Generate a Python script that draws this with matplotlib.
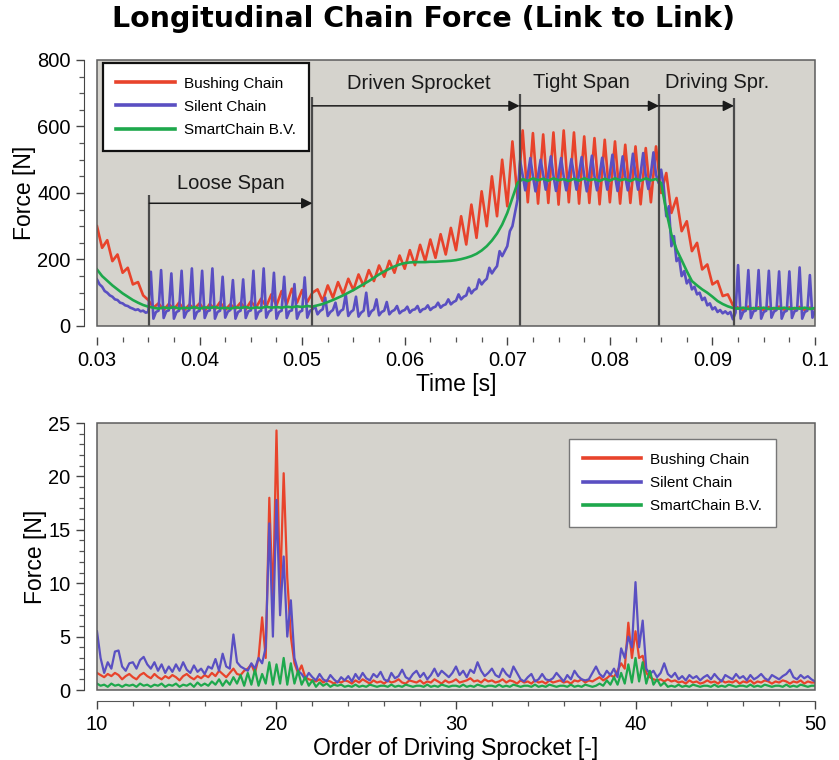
import numpy as np
import matplotlib.pyplot as plt
from matplotlib.patches import Rectangle
from matplotlib.ticker import MultipleLocator, FixedLocator, FixedFormatter

plt.rcParams['font.family'] = ['Liberation Sans', 'DejaVu Sans']

# --- time signals, sampled uniformly between 0.03 s and 0.1 s ---
# bushing chain, 0.5 ms samples
bushing_force = [
    300, 235, 258, 195, 215, 160, 175, 125, 132, 92, 78,
    55, 68, 48, 66, 50, 70, 47, 64, 52, 68, 46, 66, 50, 72, 48, 65,
    52, 70, 50, 74, 55, 82, 58, 95, 62, 105, 66, 112, 70, 108, 72, 100,
    110, 75, 122, 85, 132, 95, 142, 108, 155, 120, 168, 135, 182, 148,
    196, 160, 212, 172, 228, 183, 244, 195, 260, 205, 276, 215, 295, 228,
    330, 245, 365, 265, 405, 300, 450, 330, 500, 360, 555, 385,
    588, 372, 580, 368, 576, 370, 582, 365, 588, 372, 582, 368, 570, 370,
    565, 366, 560, 372, 555, 368, 545, 370, 540, 366, 535, 372, 540, 400,
    460, 340, 385, 285, 315, 225, 250, 170, 185, 125, 135, 90, 95, 62,
    55, 48, 58, 50, 56, 48, 57, 50, 58, 49, 56, 50, 57, 48, 55, 50,
]

# silent chain, 0.25 ms samples
silent_force = [
    140, 125, 118, 105, 100, 92, 88, 80, 78, 70, 68, 62, 60, 55, 52, 48,
    50, 44, 46, 40, 42,
    163, 22, 42, 46, 168, 24, 44, 47, 158, 22, 42, 46, 166, 25, 43, 48,
    173, 22, 42, 46, 166, 24, 44, 47, 173, 22, 42, 46, 148, 25, 43, 48,
    138, 22, 42, 46, 140, 24, 44, 47, 166, 22, 42, 46, 173, 25, 43, 48,
    160, 22, 42, 46, 148, 24, 44, 47, 126, 22, 42, 46, 146, 25, 45, 50,
    60, 35, 45, 50, 85, 30, 42, 48, 70, 32, 45, 50, 95, 30, 42, 48,
    88, 28, 40, 46, 100, 30, 44, 50, 80, 32, 42, 46, 72, 35, 44, 48,
    60, 38, 45, 48, 58, 40, 48, 50, 60, 42, 50, 52, 62, 48, 55, 58,
    70, 55, 62, 65, 80, 65, 72, 76, 95, 80, 88, 92, 115, 98, 108, 112,
    140, 125, 135, 142, 175, 158, 170, 180, 225, 210, 225, 240,
    285, 300, 340, 380,
    498, 452, 408, 455, 505, 450, 405, 452, 500, 455, 410, 458,
    510, 452, 406, 455, 505, 450, 408, 452, 502, 455, 410, 458,
    508, 452, 405, 455, 512, 450, 408, 455, 506, 455, 410, 458,
    515, 452, 406, 455, 510, 450, 408, 455, 518, 455, 410, 460,
    520, 452, 412, 458, 522, 455, 430, 470,
    420, 330, 360, 240, 270, 195, 205, 150, 165, 128, 140, 110, 118, 95,
    100, 78, 85, 62, 68, 50, 56, 42, 48, 38, 44, 36, 42, 20,
    40,
    183, 22, 42, 46, 168, 24, 44, 47, 168, 22, 42, 46, 166, 25, 43, 48,
    164, 22, 42, 46, 164, 24, 44, 47, 176, 22, 42, 46, 153, 25, 45,
]

# SmartChain B.V., 0.5 ms samples
smart_force = [
    170, 150, 136, 122, 110, 98, 88, 78, 70, 63, 58,
    55, 52, 56, 53, 57, 52, 55, 53, 57, 52, 56, 54, 57, 53, 55, 52,
    56, 54, 57, 53, 56, 54, 58, 55, 57, 55, 58, 56, 59, 57, 60, 58,
    62, 66, 72, 78, 85, 92, 100, 108, 117, 126, 135, 145, 155, 164,
    172, 179, 185, 189, 191, 192, 192, 192, 193, 193, 194, 195, 196, 198,
    201, 205, 210, 217, 227, 240, 257, 278, 305, 340, 385, 430,
    442, 436, 444, 438, 443, 437, 444, 438, 442, 436, 443, 437, 444, 438,
    442, 436, 443, 437, 444, 438, 442, 436, 443, 437, 444, 438, 442, 430,
    345, 275, 230, 198, 165, 135, 122, 110, 100, 88, 75, 66, 59, 54,
    52, 55, 51, 54, 52, 55, 51, 54, 52, 55, 51, 54, 52, 55, 51, 54,
]

# --- order spectra, 0.2 steps from order 10 to 50 ---
bushing_spec = [
    1.6, 1.4, 1.2, 1.5, 1.3, 1.6, 1.4, 1.0, 1.3, 1.5,
    1.2, 1.0, 1.4, 1.6, 1.3, 1.1, 1.5, 1.2, 1.0, 1.3,
    1.1, 1.4, 1.2, 0.9, 1.3, 1.5, 1.2, 1.0, 1.3, 1.1,
    1.4, 1.2, 1.6, 1.3, 1.8, 1.5, 1.2, 1.6, 2.0, 1.5,
    1.4, 1.8, 2.0, 2.4, 1.6, 3.0, 6.8, 3.0, 18.0, 8.0,
    24.3, 9.0, 20.3, 10.5, 5.0, 2.5, 1.6, 2.3, 1.2, 1.0,
    0.9, 0.8, 1.0, 0.7, 0.9, 0.8, 0.6, 0.8, 0.7, 0.9,
    0.8, 0.6, 0.9, 0.7, 1.0, 0.8, 0.6, 0.9, 0.7, 0.8,
    0.6, 0.9, 0.7, 0.8, 1.0, 0.7, 0.6, 0.9, 0.8, 0.7,
    0.9, 0.6, 0.8, 0.7, 1.0, 0.8, 0.6, 0.9, 0.7, 0.8,
    1.0, 0.7, 0.8, 0.9, 1.1, 0.8, 0.9, 0.7, 1.0, 0.8,
    0.9, 0.7, 0.8, 1.0, 0.7, 0.9, 0.8, 0.6, 0.9, 0.7,
    0.8, 0.6, 0.9, 0.7, 0.8, 0.6, 0.9, 0.7, 0.8, 0.9,
    0.7, 0.8, 0.6, 0.9, 0.8, 1.0, 0.7, 0.9, 0.8, 1.0,
    1.2, 0.9, 1.1, 1.4, 1.2, 1.8, 2.5, 2.0, 6.3, 3.0,
    5.5, 3.0, 3.2, 1.6, 1.2, 1.0, 0.9, 1.0, 0.8, 1.0,
    0.8, 0.9, 0.7, 0.8, 0.6, 0.9, 0.7, 0.8, 0.6, 0.7,
    0.9, 0.7, 0.8, 0.6, 0.9, 0.7, 0.8, 0.7, 0.9, 0.6,
    0.8, 0.7, 0.9, 0.6, 0.8, 0.7, 0.9, 0.8, 0.6, 0.8,
    0.7, 0.9, 0.8, 0.6, 0.8, 0.7, 0.9, 0.6, 0.8, 0.7,
    0.7,
]

silent_spec = [
    5.5, 3.0, 1.6, 2.6, 2.0, 3.6, 3.7, 2.2, 1.8, 2.5,
    2.6, 2.0, 2.8, 3.1, 2.4, 2.0, 2.6, 1.8, 2.4, 1.6,
    2.2, 1.7, 2.4, 1.8, 2.6, 1.9, 1.6, 2.3, 1.7, 2.0,
    1.5, 2.2, 2.0, 2.9, 1.8, 3.4, 2.2, 2.0, 5.2, 2.6,
    2.2, 2.0, 1.8, 2.5, 2.0, 3.0, 2.5, 4.0, 15.6, 5.0,
    17.8, 7.0, 12.5, 5.0, 8.4, 3.0, 1.8, 1.5, 1.0, 1.6,
    1.2, 0.9, 1.5, 1.0, 0.8, 1.4, 1.0, 0.7, 1.2, 0.9,
    1.3, 0.8, 1.5, 1.0, 1.6, 1.1, 0.9, 1.5, 1.2, 1.7,
    1.0, 0.8, 1.6, 1.1, 1.3, 1.9, 1.2, 1.0, 1.5, 1.8,
    1.2, 1.6, 1.0, 1.4, 2.0, 1.3, 1.8, 1.5, 1.2, 1.6,
    2.2, 1.4, 1.8, 1.2, 1.9, 1.6, 2.6, 1.8, 1.3, 1.6,
    2.0, 1.4, 1.2, 2.0, 1.5, 1.2, 2.2, 1.6, 1.0, 0.8,
    1.2, 1.5, 0.8, 1.0, 1.5, 1.0, 0.9, 1.1, 1.6, 1.2,
    0.8, 1.4, 1.0, 1.8, 1.3, 1.0, 0.9, 1.0, 1.6, 2.2,
    1.5, 1.2, 1.8, 1.4, 2.0, 1.2, 3.9, 3.0, 5.0, 4.0,
    10.1, 4.0, 6.5, 2.0, 1.5, 1.8, 1.2, 1.6, 2.5, 1.5,
    1.2, 1.6, 1.0, 1.3, 0.9, 1.4, 1.1, 1.3, 0.9, 1.2,
    1.4, 1.0, 1.5, 1.1, 0.8, 1.4, 1.2, 1.0, 1.5, 1.1,
    1.3, 0.9, 1.4, 1.0, 1.2, 1.5, 1.1, 0.9, 1.4, 1.2,
    1.0, 1.3, 1.5, 1.9, 1.2, 1.0, 1.4, 1.1, 1.3, 1.0,
    0.8,
]

smart_spec = [
    0.6, 0.4, 0.5, 0.3, 0.6, 0.4, 0.5, 0.3, 0.5, 0.4,
    0.5, 0.3, 0.6, 0.4, 0.5, 0.3, 0.5, 0.4, 0.6, 0.3,
    0.5, 0.4, 0.6, 0.3, 0.5, 0.4, 0.6, 0.3, 0.7, 0.4,
    0.6, 0.4, 0.8, 0.5, 1.0, 0.4, 0.9, 0.5, 1.2, 0.6,
    1.4, 0.4, 1.6, 0.5, 1.9, 0.4, 1.5, 0.6, 2.6, 0.5,
    2.4, 0.6, 3.0, 0.5, 2.5, 0.6, 1.8, 0.5, 1.2, 0.4,
    0.9, 0.3, 0.7, 0.4, 0.6, 0.3, 0.5, 0.4, 0.5, 0.3,
    0.4, 0.3, 0.5, 0.3, 0.4, 0.3, 0.5, 0.4, 0.3, 0.4,
    0.4, 0.3, 0.5, 0.3, 0.4, 0.3, 0.5, 0.4, 0.3, 0.4,
    0.4, 0.3, 0.5, 0.3, 0.4, 0.3, 0.5, 0.4, 0.3, 0.4,
    0.4, 0.3, 0.5, 0.3, 0.4, 0.3, 0.5, 0.4, 0.3, 0.4,
    0.4, 0.3, 0.5, 0.3, 0.4, 0.3, 0.5, 0.4, 0.3, 0.4,
    0.4, 0.3, 0.5, 0.3, 0.4, 0.3, 0.5, 0.4, 0.3, 0.4,
    0.4, 0.3, 0.5, 0.3, 0.4, 0.3, 0.5, 0.4, 0.3, 0.4,
    0.6, 0.4, 0.9, 0.5, 1.2, 0.5, 1.6, 0.6, 2.4, 0.7,
    3.0, 0.8, 2.6, 0.6, 1.8, 0.5, 1.0, 0.4, 0.7, 0.3,
    0.4, 0.3, 0.5, 0.3, 0.4, 0.3, 0.5, 0.4, 0.3, 0.4,
    0.4, 0.3, 0.5, 0.3, 0.4, 0.3, 0.5, 0.4, 0.3, 0.4,
    0.4, 0.3, 0.5, 0.3, 0.4, 0.3, 0.5, 0.4, 0.3, 0.4,
    0.4, 0.3, 0.5, 0.3, 0.4, 0.3, 0.5, 0.4, 0.3, 0.4,
    0.4,
]

series_names = ['Bushing Chain', 'Silent Chain', 'SmartChain B.V.']
series_colors = ['#e8432b', '#5a4fc2', '#1ea84c']

# phase boundaries [s], height of each boundary line [N]
phase_edges = [0.0351, 0.0510, 0.0712, 0.0848, 0.0921]
phase_tops = [393, 688, 699, 699, 686]
phase_names = ['Loose Span', 'Driven Sprocket', 'Tight Span', 'Driving Spr.']
arrow_levels = [369, 662, 662, 662]
label_pos = [(0.0430, 429), (0.0614, 729), (0.0772, 733), (0.0905, 733)]

time_ticks = [0.03, 0.04, 0.05, 0.06, 0.07, 0.08, 0.09, 0.10]
time_labels = ['0.03', '0.04', '0.05', '0.06', '0.07', '0.08', '0.09', '0.1']

bg = '#d5d3cd'

fig = plt.figure(figsize=(8.39, 7.6), dpi=100)
ax1 = fig.add_axes([0.1156, 0.5711, 0.8558, 0.3500])
ax2 = fig.add_axes([0.1156, 0.0921, 0.8558, 0.3513])


def style_axes(ax):
    ax.set_facecolor(bg)
    for side in ['top', 'right']:
        ax.spines[side].set_visible(False)
    ax.spines['left'].set_position(('outward', 9))
    ax.spines['bottom'].set_position(('outward', 8))
    ax.spines['left'].set_color('#444444')
    ax.spines['bottom'].set_color('#555555')
    ax.tick_params(which='major', direction='out', length=6, width=1.0,
                   color='#444444', labelsize=14.5, pad=4)
    ax.tick_params(which='minor', direction='out', length=3.5, width=0.9,
                   color='#555555')
    # frame round the plotting area
    ax.add_patch(Rectangle((0, 0), 1, 1, transform=ax.transAxes, fill=False,
                           edgecolor='#5c5c5c', lw=1.1, zorder=6, clip_on=False))


def style_legend(leg, edge, width):
    leg.get_frame().set_edgecolor(edge)
    leg.get_frame().set_linewidth(width)
    for ln in leg.get_lines():
        ln.set_linewidth(2.6)


legend_opts = dict(borderaxespad=0, fontsize=11, handlelength=3.8,
                   handletextpad=0.6, labelspacing=0.6, borderpad=0.9,
                   fancybox=False, framealpha=1)

# top: force over time
style_axes(ax1)
t_bush = np.linspace(0.03, 0.1, len(bushing_force))
t_silent = np.linspace(0.03, 0.1, len(silent_force))
t_smart = np.linspace(0.03, 0.1, len(smart_force))
ax1.plot(t_bush, bushing_force, color=series_colors[0], lw=1.9, label=series_names[0])
ax1.plot(t_silent, silent_force, color=series_colors[1], lw=1.9, label=series_names[1])
ax1.plot(t_smart, smart_force, color=series_colors[2], lw=1.9, label=series_names[2])

ax1.vlines(phase_edges, 0, phase_tops, color='#4a4a4a', lw=1.6, zorder=4)
for i, name in enumerate(phase_names):
    ax1.annotate('', xy=(phase_edges[i + 1], arrow_levels[i]),
                 xytext=(phase_edges[i], arrow_levels[i]),
                 arrowprops=dict(arrowstyle='-|>', color='#1a1a1a', lw=1.1,
                                 mutation_scale=16, shrinkA=0, shrinkB=0),
                 zorder=5)
    ax1.text(label_pos[i][0], label_pos[i][1], name, ha='center', va='center',
             fontsize=14.5, color='#1a1a1a')

ax1.set_xlim(0.03, 0.1)
ax1.set_ylim(0, 800)
ax1.spines['bottom'].set_visible(False)
ax1.xaxis.set_major_locator(FixedLocator(time_ticks))
ax1.xaxis.set_major_formatter(FixedFormatter(time_labels))
ax1.xaxis.set_minor_locator(MultipleLocator(0.0025))
ax1.yaxis.set_major_locator(MultipleLocator(200))
ax1.yaxis.set_minor_locator(MultipleLocator(50))
ax1.set_xlabel('Time [s]', fontsize=16.5, labelpad=2)
ax1.set_ylabel('Force [N]', fontsize=16.5, labelpad=1)
leg1 = ax1.legend(loc='upper left', bbox_to_anchor=(0.008, 0.989), **legend_opts)
style_legend(leg1, '#111111', 1.6)

# bottom: order spectrum
style_axes(ax2)
orders = np.linspace(10, 50, len(bushing_spec))
ax2.plot(orders, bushing_spec, color=series_colors[0], lw=1.6, label=series_names[0])
ax2.plot(orders, silent_spec, color=series_colors[1], lw=1.6, label=series_names[1])
ax2.plot(orders, smart_spec, color=series_colors[2], lw=1.6, label=series_names[2])
ax2.set_xlim(10, 50)
ax2.set_ylim(0, 25)
ax2.xaxis.set_major_locator(MultipleLocator(10))
ax2.xaxis.set_minor_locator(MultipleLocator(2))
ax2.yaxis.set_major_locator(MultipleLocator(5))
ax2.yaxis.set_minor_locator(MultipleLocator(1))
ax2.set_xlabel('Order of Driving Sprocket [-]', fontsize=16.5, labelpad=2)
ax2.set_ylabel('Force [N]', fontsize=16.5, labelpad=1)
leg2 = ax2.legend(loc='upper right', bbox_to_anchor=(0.9457, 0.940), **legend_opts)
style_legend(leg2, '#777777', 1.0)

fig.text(0.505, 0.975, 'Longitudinal Chain Force (Link to Link)', ha='center',
         va='center', fontsize=20.5, fontweight='bold', family='DejaVu Sans')

fig.savefig('out.png', dpi=100)
